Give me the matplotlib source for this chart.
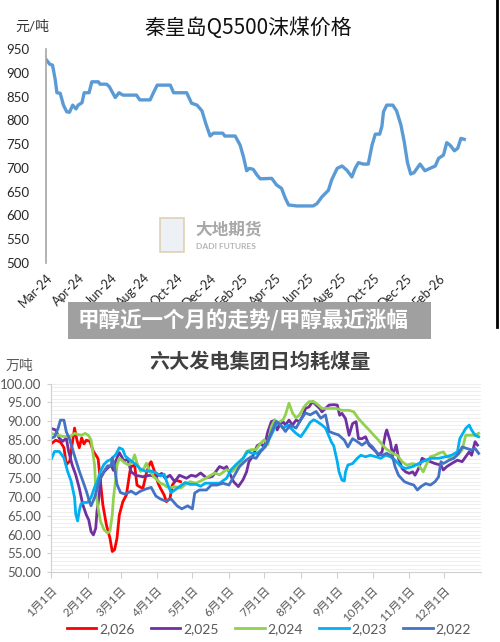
import matplotlib
matplotlib.use("Agg")
from matplotlib import pyplot as plt
from matplotlib.patches import Rectangle
from matplotlib.lines import Line2D
import numpy as np

plt.rcParams['font.family'] = ['Lato', 'Noto Sans CJK SC', 'DejaVu Sans']

# ---- top chart: Qinhuangdao Q5500 price (days since 2024-03-01) ----
price_days = [0, 7, 12, 17, 20, 26, 32, 38, 43, 49, 55, 59, 66, 70, 79, 84, 96, 99, 111, 116,
              127, 134, 141, 166, 172, 191, 197, 204, 228, 234, 258, 267, 277, 286, 294, 301,
              307, 324, 328, 347, 356, 362, 368, 373, 380, 387, 393, 414, 423, 432, 439, 445,
              460, 490, 497, 506, 518, 524, 534, 543, 552, 561, 567, 573, 582, 591, 598, 604,
              612, 616, 619, 625, 636, 643, 651, 657, 663, 669, 675, 686, 695, 708, 714, 720,
              729, 735, 741, 749, 755, 761, 767]
price_vals = [928, 918, 916, 885, 858, 857, 832, 818, 817, 832, 824, 832, 837, 858, 858, 881, 881,
              876, 876, 871, 848, 858, 853, 853, 843, 843, 858, 874, 874, 858, 858, 836, 832, 820,
              790, 767, 773, 773, 767, 767, 748, 724, 694, 699, 697, 685, 677, 678, 664, 657, 636,
              622, 620, 620, 625, 639, 653, 675, 699, 704, 695, 681, 699, 711, 708, 708, 748, 771,
              771, 787, 818, 832, 832, 820, 790, 755, 711, 687, 690, 708, 694, 701, 704, 720, 727,
              753, 748, 736, 741, 762, 760]
price_tick_days = [0, 60, 120, 180, 240, 300, 360, 420, 480, 540, 600, 660, 720]
price_tick_labels = ["Mar-24", "Apr-24", "Jun-24", "Aug-24", "Oct-24", "Dec-24", "Feb-25",
                     "Apr-25", "Jun-25", "Aug-25", "Oct-25", "Dec-25", "Feb-26"]

# ---- bottom chart: daily coal consumption of six power groups (day of year) ----
d2026 = [0, 4, 8, 11, 13, 16, 18, 20, 22, 24, 26, 28, 30, 33, 36, 39, 40, 42, 44, 47, 50, 52, 54,
         56, 58, 61, 64, 67, 68, 71, 73, 75, 78, 81, 84, 85, 88, 91, 93, 96, 98, 101, 103, 106, 110]
v2026 = [84, 85, 84.5, 83, 78.5, 79.5, 84, 88.2, 85, 83, 85.6, 84, 85, 84.7, 82, 80.6, 80, 74, 67.9,
         62.6, 59.1, 55.5, 56, 59, 65.2, 68.7, 70.5, 76.7, 78, 78.4, 73.1, 72.7, 72.2, 76.3, 78.9,
         79.3, 76.6, 73.5, 72.2, 70.5, 68.7, 69.6, 73.1, 74.4, 74]

d2025 = [0, 4, 7, 10, 13, 15, 18, 21, 24, 27, 30, 32, 34, 36, 38, 39, 41, 42, 45, 48, 51, 53, 55,
         58, 62, 65, 68, 72, 78, 84, 89, 94, 97, 101, 105, 109, 115, 119, 123, 127, 132, 137, 143,
         147, 149, 152, 155, 159, 163, 166, 168, 171, 175, 178, 181, 184, 187, 190, 192, 194, 197,
         199, 202, 205, 208, 211, 214, 216, 219, 222, 225, 228, 230, 233, 236, 240, 243, 245, 247,
         250, 253, 256, 259, 261, 264, 267, 270, 273, 276, 278, 281, 284, 285, 288, 290, 293, 295,
         298, 301, 304, 307, 309, 312, 315, 318, 322, 326, 331, 333, 336, 340, 345, 349, 352, 355,
         357, 360, 362]
v2025 = [88.1, 87.7, 85.5, 84.7, 85.5, 82, 78.4, 75.8, 72.3, 67.9, 65.2, 63.9, 60.8, 59.9, 61.7,
         66.1, 70.5, 74.9, 76.6, 77.6, 78.4, 77, 79.5, 81.7, 79.5, 80, 76.6, 75.7, 75.3, 75.7, 75.3,
         76.2, 74.9, 75.7, 74, 75.7, 74.9, 75.7, 75.4, 76.3, 75, 75.4, 78, 77.5, 78, 76, 74, 72.7,
         74.5, 76.6, 79.3, 80.6, 83.5, 84.1, 83.2, 87.2, 89.9, 90.3, 87.7, 89, 89.9, 89, 90.3, 89,
         90.3, 89.9, 91.6, 93.4, 93.8, 95.2, 94.3, 93.4, 92.5, 93.4, 94.3, 94.4, 94.3, 91.6, 92.1,
         90.7, 86.3, 89.4, 89.9, 85.4, 85.4, 85.9, 83.7, 82.8, 81.9, 81, 81.9, 86.8, 87.7, 84.6, 81,
         83.7, 80.2, 77.5, 76.6, 76.2, 76.6, 75.7, 77.5, 80.2, 79.7, 79.3, 78.8, 78.4, 77.1, 78,
         78.8, 79.7, 79.3, 80.6, 81.9, 81, 84.6, 83.7]

d2024 = [0, 6, 10, 16, 20, 23, 26, 29, 32, 34, 35, 37, 38, 39.5, 42, 45, 48, 50, 52, 53, 55, 56,
         58, 60, 63, 66, 69, 71, 73, 76, 79, 81, 84, 87, 90, 93, 96, 98, 101, 105, 110, 114, 118,
         123, 129, 134, 139, 143, 149, 154, 160, 163, 166, 170, 174, 178, 181, 184, 187, 190, 192,
         197, 199, 202, 205, 208, 211, 215, 219, 223, 227, 230, 236, 242, 247, 253, 257, 261, 266,
         270, 274, 278, 284, 290, 294, 298, 302, 307, 312, 316, 319, 322, 326, 329, 333, 336, 340,
         345, 349, 352, 356, 360, 363]
v2024 = [86.8, 86.3, 86, 85.9, 86.8, 86.5, 86.3, 86.8, 86.2, 85, 82.9, 78.4, 72.2, 67.9, 63.5,
         61.3, 60.4, 60.8, 65.2, 69.6, 74.9, 78.4, 80.2, 79.7, 78.9, 78.4, 79.3, 81.1, 78.9, 76.7,
         77.6, 78.9, 76.7, 75.4, 74.5, 73.6, 73.2, 72.7, 72.3, 72.7, 72.3, 73.2, 74, 73.6, 74.5,
         75.4, 76.3, 75.8, 77.2, 76.7, 78.5, 80, 82, 82.5, 82.5, 84.2, 85.1, 83.8, 88.6, 90.4, 89.5,
         90.4, 91.7, 94.8, 92.2, 90.9, 91.7, 93.9, 95.2, 95.2, 94.3, 93.4, 93.4, 93.4, 92.9, 92.9,
         92.5, 90.7, 89, 87.7, 86.3, 85, 82.8, 81.5, 81, 79.3, 78.4, 78.8, 78.4, 76.6, 78.8, 80.6,
         81, 81.5, 81.9, 80.6, 80.2, 81, 82.4, 86.3, 86.3, 86.3, 86.8]

d2023 = [0, 3, 7, 11, 14, 17, 20, 21, 22.6, 24, 25.4, 28, 31, 34, 37, 39.5, 42, 45, 48, 51, 55,
         58, 61, 63, 68, 72, 76, 80, 85, 89, 93, 96, 99, 102, 106, 110, 114, 118, 123, 127, 131,
         135, 143, 149, 153, 157, 163, 167, 171, 175, 180, 184, 187, 190, 192, 197, 201, 205, 208,
         212, 216, 220, 223, 226, 230, 233, 236, 238, 240, 243, 244.5, 247, 249, 250, 252, 256,
         260, 263, 267, 271, 276, 280, 284, 288, 292, 297, 301, 307, 312, 318, 323, 329, 335, 340,
         345, 347, 352, 355, 357, 360, 363]
v2023 = [79.8, 82, 82, 80.3, 76.8, 74.2, 69.8, 65.4, 63.6, 66.3, 68.1, 68.5, 68.5, 69.8, 72.5,
         74.2, 76.8, 78.6, 79.5, 79.9, 81.2, 83, 82.5, 80.8, 79.5, 78.6, 77.3, 76.8, 76.8, 76.4,
         75.5, 76, 73.3, 71.1, 72, 72.9, 73.8, 73.3, 73.3, 72.8, 73.6, 73.6, 73.6, 74.9, 77.2, 78.5,
         80.2, 82, 81.5, 81.5, 82.9, 84.5, 86.4, 88.4, 89.9, 88.2, 89, 87.7, 86.8, 85.9, 87.7, 89.7,
         90.4, 89.9, 89, 88.2, 86, 84.5, 83.5, 79.3, 76.6, 74.4, 74.2, 76.6, 78.4, 78.8, 80.2, 81,
         80.6, 81, 80.6, 80.2, 81, 80.6, 79.7, 78, 77.5, 78, 78.8, 79.7, 80.2, 80.2, 80.6, 81, 81.9,
         85.4, 88.1, 89, 87.7, 86.3, 85.9]

d2022 = [0, 3, 6, 8, 11, 13, 15.5, 18, 21, 24, 27, 30, 32, 34, 37, 39.5, 42, 45, 48, 51, 52, 54,
         56, 59, 63, 68, 72, 76, 80, 85, 89, 93, 97, 102, 107, 111, 116, 120, 122, 126, 132, 136,
         141, 146, 151, 156, 160, 166, 170, 174, 178, 182, 185, 188, 191, 195, 199, 203, 208, 212,
         216, 220, 225, 229, 233, 236, 240, 244, 249, 252, 256, 260, 264, 268, 273, 277, 281, 285,
         290, 292, 295, 300, 304, 308, 311, 314, 318, 322, 326, 329, 331, 333, 338, 342, 346, 349,
         353, 357, 360, 363]
v2022 = [85.5, 85.9, 88.1, 90.3, 90.3, 87.2, 85.5, 82.9, 79.8, 76.8, 74.2, 71.5, 69.4, 67.6, 69.8,
         72.5, 75.1, 76.8, 78.2, 78.2, 80.3, 77.7, 73.3, 71.1, 70.7, 71.5, 70.7, 71.5, 72, 72.5, 70.2,
         69.4, 68.9, 69.4, 67.6, 66.8, 67.6, 66.8, 71, 71.8, 71.8, 73.1, 73.1, 73.6, 73.1, 75.8, 78,
         79.8, 80.6, 80.2, 82, 83.3, 85.5, 87.7, 89.9, 89, 87.3, 89, 88.2, 90.4, 92.2, 91.7, 92.6,
         90.8, 91.7, 87.3, 86.8, 86.4, 85, 83.2, 85.4, 84.6, 83.7, 84.6, 83.2, 81.5, 81, 81.5, 80.6,
         78, 75.7, 74, 73.5, 73.1, 71.8, 72.7, 73.5, 73.1, 74, 75.3, 79.3, 78.8, 79.7, 80.2, 81.5,
         83.2, 82.8, 82.4, 82.8, 81.5]

month_days = [0, 31, 59, 90, 120, 151, 181, 212, 243, 273, 304, 334]
month_labels = ["1月1日", "2月1日", "3月1日", "4月1日", "5月1日", "6月1日",
                "7月1日", "8月1日", "9月1日", "10月1日", "11月1日", "12月1日"]

series = [("2,026", d2026, v2026, "#FF0000"),
          ("2,025", d2025, v2025, "#7030A0"),
          ("2,024", d2024, v2024, "#92D050"),
          ("2,023", d2023, v2023, "#00B0F0"),
          ("2,022", d2022, v2022, "#4472C4")]

fig = plt.figure(figsize=(5, 6.42), dpi=100)
fig.patch.set_facecolor("white")

# ---------------- top chart ----------------
ax1 = fig.add_axes([0.092, 0.5903, 0.868, 0.3334])
ax1.plot(price_days, price_vals, color="#5B9BD5", lw=2.4, solid_joinstyle="round")
ax1.set_xlim(0, 796)
ax1.set_ylim(500, 950)
ax1.set_yticks(np.arange(500, 951, 50))
ax1.set_xticks(price_tick_days)
ax1.set_xticklabels(price_tick_labels, rotation=45, ha="right", rotation_mode="anchor")
ax1.tick_params(axis="y", length=0, pad=12, labelsize=9.5, labelcolor="#262626")
ax1.tick_params(axis="x", length=0, pad=6, labelsize=9, labelcolor="#262626")
for s in ["top", "right", "bottom"]:
    ax1.spines[s].set_visible(False)
ax1.spines["left"].set_color("#a6a6a6")
ax1.spines["left"].set_linewidth(1.2)

fig.text(0.496, 1 - 28 / 642, "秦皇岛Q5500沫煤价格", ha="center", va="center",
         fontsize=15, color="#111111", family=["Noto Sans CJK SC"])
fig.text(0.03, 1 - 26 / 642, "元/吨", ha="left", va="center", fontsize=10, color="#333333")

# watermark
ax1.add_patch(Rectangle((0.262, 0.05), 0.055, 0.16, transform=ax1.transAxes,
                        facecolor="#e9edf3", edgecolor="#d8c7a3", lw=1.2, alpha=0.8))
ax1.text(0.345, 0.155, "大地期货", transform=ax1.transAxes, fontsize=12, color="#a8a8a8",
         ha="left", va="center", fontweight="bold")
ax1.text(0.345, 0.075, "DADI FUTURES", transform=ax1.transAxes, fontsize=6, color="#b5b5b5",
         ha="left", va="center", fontweight="bold")

# banner and right border
fig.patches.append(Rectangle((68 / 500, 1 - 339 / 642), 363 / 500, 37 / 642,
                             transform=fig.transFigure, facecolor="#a0a0a0", edgecolor="none"))
fig.text(78 / 500, 1 - 320 / 642, "甲醇近一个月的走势/甲醇最近涨幅", ha="left", va="center",
         fontsize=15.5, color="white", fontweight="bold", family=["Noto Sans CJK SC"])
fig.lines.append(Line2D([0.994, 0.994], [1.0, 1 - 327 / 642], transform=fig.transFigure,
                        color="black", lw=2))

# ---------------- bottom chart ----------------
ax2 = fig.add_axes([0.102, 0.1086, 0.86, 0.2940])
for y in np.arange(51, 100.5, 1):
    ax2.axhline(y, color="#ebebeb", lw=0.6, zorder=0)
for name, d, v, c in series:
    ax2.plot(d, v, color=c, lw=2.0, label=name, solid_joinstyle="round")
ax2.set_xlim(0, 365)
ax2.set_ylim(50, 100)
ax2.set_yticks(np.arange(50, 100.1, 5))
ax2.set_yticklabels([f"{t:.2f}" for t in np.arange(50, 100.1, 5)])
ax2.set_xticks(month_days)
ax2.set_xticklabels(month_labels, rotation=45, ha="right", rotation_mode="anchor")
ax2.tick_params(axis="y", length=3, pad=4, labelsize=9.5, labelcolor="#595959", color="#d0d0d0")
ax2.tick_params(axis="x", length=4, pad=5, labelsize=8.5, labelcolor="#595959", color="#d0d0d0")
for s in ["top", "right"]:
    ax2.spines[s].set_visible(False)
ax2.spines["left"].set_color("#d0d0d0")
ax2.spines["bottom"].set_color("#d0d0d0")

fig.text(0.52, 1 - 361 / 642, "六大发电集团日均耗煤量", ha="center", va="center",
         fontsize=14.5, color="#404040", fontweight="bold", family=["Noto Sans CJK SC"])
fig.text(0.012, 1 - 365 / 642, "万吨", ha="left", va="center", fontsize=10, color="#595959")

fig.legend(loc="center", bbox_to_anchor=(0.538, 1 - 629 / 642), ncol=5, frameon=False,
           fontsize=10, handlelength=2.1, handletextpad=0.2, columnspacing=1.2,
           labelcolor="#595959")

fig.savefig("out.png", dpi=100)
